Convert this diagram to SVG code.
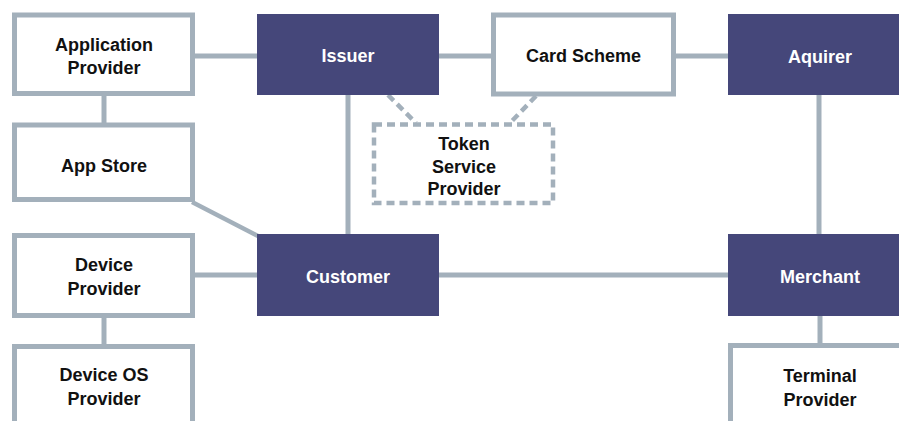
<svg xmlns="http://www.w3.org/2000/svg" width="899" height="421" viewBox="0 0 899 421">
  <style>
    .lite { fill: #ffffff; stroke: #a3b0bb; stroke-width: 5; }
    .dark { fill: #45477a; }
    .dash { fill: #ffffff; stroke: #a3b0bb; stroke-width: 4.5; stroke-dasharray: 8 5; }
    .link { stroke: #a3b0bb; stroke-width: 5; fill: none; }
    .dlink { stroke: #a3b0bb; stroke-width: 4.5; stroke-dasharray: 8 5; fill: none; }
    text { font-family: "Liberation Sans", Arial, sans-serif; font-weight: bold; font-size: 18px; text-anchor: middle; }
    .t { fill: #111111; }
    .w { fill: #ffffff; }
  </style>

  <!-- connectors -->
  <g id="connectors">
    <line class="link" x1="195" y1="56" x2="257" y2="56"/>
    <line class="link" x1="104" y1="96" x2="104" y2="123"/>
    <line class="link" x1="439" y1="56" x2="491" y2="56"/>
    <line class="link" x1="676" y1="56" x2="728" y2="56"/>
    <line class="link" x1="348" y1="95" x2="348" y2="234"/>
    <line class="link" x1="819" y1="95" x2="819" y2="234"/>
    <line class="link" x1="439" y1="275" x2="728" y2="275"/>
    <line class="link" x1="195" y1="275" x2="257" y2="275"/>
    <line class="link" x1="104" y1="318" x2="104" y2="344"/>
    <line class="link" x1="820" y1="316" x2="820" y2="344"/>
    <line class="link" x1="192" y1="202" x2="260" y2="237" style="stroke-width:4.5"/>
    <line class="dlink" x1="388" y1="95" x2="416" y2="123"/>
    <line class="dlink" x1="536" y1="96" x2="510" y2="123"/>
  </g>

  <g id="application-provider">
    <rect class="lite" x="14.5" y="15" width="178" height="78.5"/>
    <text class="t" x="104" y="50.5">Application</text>
    <text class="t" x="104" y="73.5">Provider</text>
  </g>

  <g id="app-store">
    <rect class="lite" x="14.5" y="125" width="178" height="74.5"/>
    <text class="t" x="104" y="172">App Store</text>
  </g>

  <g id="device-provider">
    <rect class="lite" x="14.5" y="235.5" width="178" height="80"/>
    <text class="t" x="104" y="271">Device</text>
    <text class="t" x="104" y="294.5">Provider</text>
  </g>

  <g id="device-os-provider">
    <rect class="lite" x="14.5" y="346.5" width="178" height="100"/>
    <text class="t" x="104" y="381">Device OS</text>
    <text class="t" x="104" y="405">Provider</text>
  </g>

  <g id="issuer">
    <rect class="dark" x="257" y="14" width="182" height="81"/>
    <text class="w" x="348" y="62">Issuer</text>
  </g>

  <g id="card-scheme">
    <rect class="lite" x="493.5" y="15" width="180" height="79"/>
    <text class="t" x="583.5" y="62">Card Scheme</text>
  </g>

  <g id="aquirer">
    <rect class="dark" x="728" y="14" width="182" height="81"/>
    <text class="w" x="820" y="62.5">Aquirer</text>
  </g>

  <g id="token-service-provider">
    <rect class="dash" x="374" y="124.5" width="179" height="78.5"/>
    <text class="t" x="464" y="150">Token</text>
    <text class="t" x="464" y="172.5">Service</text>
    <text class="t" x="464" y="195">Provider</text>
  </g>

  <g id="customer">
    <rect class="dark" x="257" y="234" width="182" height="82"/>
    <text class="w" x="348" y="282.5">Customer</text>
  </g>

  <g id="merchant">
    <rect class="dark" x="728" y="234" width="182" height="82"/>
    <text class="w" x="820" y="282.5">Merchant</text>
  </g>

  <g id="terminal-provider">
    <rect class="lite" x="730.5" y="345.5" width="200" height="100"/>
    <text class="t" x="820" y="382">Terminal</text>
    <text class="t" x="820" y="405.5">Provider</text>
  </g>
</svg>
